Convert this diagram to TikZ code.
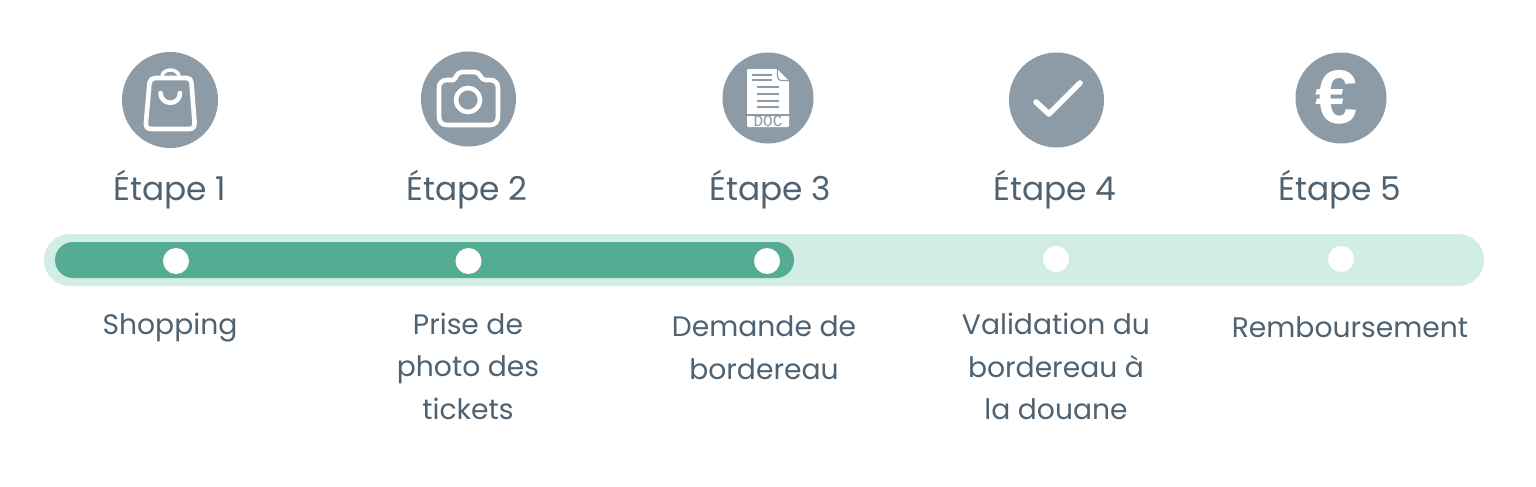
\documentclass[tikz,border=0pt]{standalone}
\usepackage{fontspec}
\setmainfont{Poppins}
\newfontfamily\eurofont{Liberation Sans}
\newfontfamily\docfont{Liberation Mono}
\definecolor{icongray}{HTML}{8D9BA6}
\definecolor{inktext}{HTML}{4F6272}
\definecolor{barlight}{HTML}{D2EDE5}
\definecolor{bardark}{HTML}{54AC92}
\tikzset{
 disc/.style={circle,fill=icongray,draw=none,inner sep=0pt,minimum size=#1*0.5pt},
 dot/.style={circle,fill=white,draw=none,inner sep=0pt,minimum size=#1*0.5pt},
 title/.style={anchor=base,inner sep=0pt,font=\fontsize{16.4}{18}\selectfont,text=inktext},
 caption/.style={anchor=base,inner sep=0pt,font=\fontsize{14.1}{18}\selectfont,text=inktext},
 iconline/.style={draw=white,line width=2.3pt,line cap=round,line join=round},
 docline/.style={draw=icongray,line width=0.6pt},
}
\begin{document}
\begin{tikzpicture}[x=0.5pt,y=-0.5pt]
\useasboundingbox (0,0) rectangle (1536,487);
\fill[white] (0,0) rectangle (1536,487);
% bar
\fill[barlight,rounded corners=13pt] (44,234) rectangle (1484,286);
\fill[bardark,rounded corners=9pt] (55,242) rectangle (794,278);
\node[dot=26] (d1) at (176,261) {};
\node[dot=26] (d2) at (468.5,261) {};
\node[dot=26] (d3) at (767,261) {};
\node[dot=26] (d4) at (1056,259) {};
\node[dot=26] (d5) at (1341,259) {};
% discs
\node[disc=96] (i1) at (170,100) {};
\node[disc=95] (i2) at (468.5,99) {};
\node[disc=91] (i3) at (768,98) {};
\node[disc=95] (i4) at (1056.5,100) {};
\node[disc=91] (i5) at (1341,98) {};
% bag
\draw[iconline] (155,78) -- (187,78) .. controls (190,78) and (191,80) .. (191.5,83) -- (194.5,122) .. controls (195,127) and (193,129) .. (189,129) -- (152,129) .. controls (147,129) and (145.5,127) .. (146,122) -- (149.5,83) .. controls (150,80) and (152,78) .. (155,78) -- cycle;
\draw[iconline,line width=1.7pt] (162,76) .. controls (163,68) and (178,68) .. (179,76);
\draw[iconline] (160.5,93) .. controls (161,106) and (180,106) .. (180,93);
% camera
\draw[iconline] (447,80) -- (453,80) .. controls (456,80) and (456,72) .. (462,72) -- (475,72) .. controls (480,72) and (481,80) .. (485,80) -- (490,80) .. controls (495,80) and (498,83) .. (498,88) -- (498,116) .. controls (498,122) and (495,125) .. (490,125) -- (447,125) .. controls (442,125) and (439,122) .. (439,116) -- (439,88) .. controls (439,83) and (442,80) .. (447,80) -- cycle;
\draw[iconline] (468,100) circle[radius=12];
% document
\fill[white,rounded corners=0.6pt] (747,69) -- (777,69) -- (789,81) -- (789,127) -- (747,127) -- cycle;
\draw[docline] (777.5,69) -- (777.5,77) .. controls (777.5,79) and (779,80.5) .. (781,80.5) -- (789,80.5);
\draw[docline] (752,75) -- (772,75) (752,80) -- (772,80);
\draw[docline] (757,87) -- (779,87) (757,94) -- (779,94) (757,101) -- (779,101) (757,107) -- (779,107);
\draw[docline] (747,115) -- (789,115);
\node[inner sep=0pt,text=icongray,font=\fontsize{8}{9}\docfont] (doc) at (768,121.5) {DOC};
% check
\draw[iconline,line width=2.8pt] (1036,102) -- (1049,114) -- (1080,83);
% euro
\node[inner sep=0pt,text=white,font=\fontsize{38}{39}\eurofont\bfseries] (eur) at (1337,97.5) {€};
% titles
\node[title] (t1) at (170,200) {Étape 1};
\node[title] (t2) at (467,200) {Étape 2};
\node[title] (t3) at (770,200) {Étape 3};
\node[title] (t4) at (1055,200) {Étape 4};
\node[title] (t5) at (1340,200) {Étape 5};
% captions
\node[caption] (c1) at (170,334) {Shopping};
\node[caption] (c2a) at (468,334) {Prise de};
\node[caption] (c2b) at (468,376) {photo des};
\node[caption] (c2c) at (468,419) {tickets};
\node[caption] (c3a) at (764,336) {Demande de};
\node[caption] (c3b) at (764,379) {bordereau};
\node[caption] (c4a) at (1056,334) {Validation du};
\node[caption] (c4b) at (1056,377) {bordereau à};
\node[caption] (c4c) at (1056,419) {la douane};
\node[caption] (c5) at (1350,337) {Remboursement};
\end{tikzpicture}
\end{document}
